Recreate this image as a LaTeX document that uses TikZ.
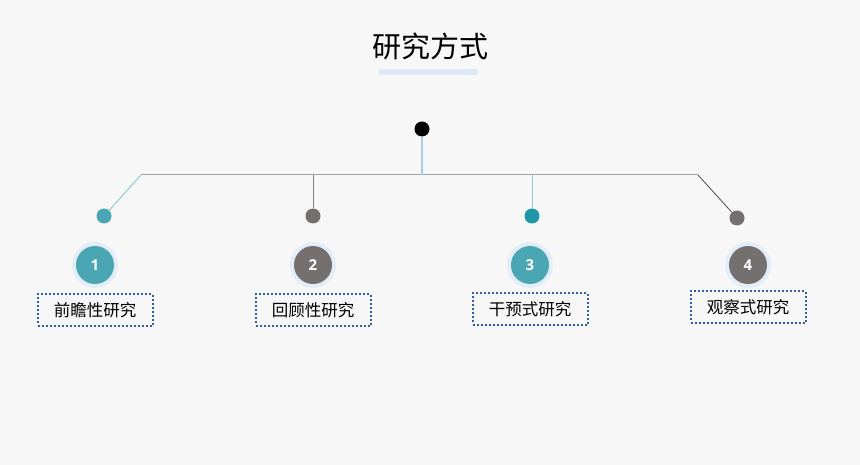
\documentclass[tikz,border=0pt]{standalone}
\usepackage{fontspec}
\setmainfont{Noto Sans CJK SC}
\newfontfamily\numfont{Open Sans}
\usetikzlibrary{calc}
\definecolor{bgcol}{HTML}{F7F7F7}
\definecolor{tealc}{HTML}{4AA6B2}
\definecolor{tealdot}{HTML}{2196A6}
\definecolor{grayc}{HTML}{757070}
\definecolor{glowc}{HTML}{E2EDF8}
\definecolor{barc}{HTML}{DAE8F8}
\definecolor{boxc}{HTML}{2F5F9E}
\definecolor{linec}{HTML}{A3A3A3}
\definecolor{lteal}{HTML}{92CAD2}
\definecolor{lblue}{HTML}{A9CCE8}
\tikzset{
 dot/.style={circle, inner sep=0, minimum size=15},
 num/.style={circle, inner sep=0, minimum size=38, text=white, font=\numfont\bfseries\fontsize{15}{15}\selectfont},
 glow/.style={circle, inner sep=0, minimum size=46, fill=glowc},
 lab/.style={draw=boxc, line width=2, dotted, minimum width=115, minimum height=31, inner sep=0, font=\fontsize{16.5}{16.5}\selectfont}
}
\begin{document}
\begin{tikzpicture}[x=1pt,y=-1pt]
\fill[bgcol] (0,0) rectangle (860,465);
\useasboundingbox (0,0) rectangle (860,465);
\node (title) at (430,46) {\fontsize{29}{29}\selectfont 研究方式};
\fill[barc] (379,69) rectangle (478,75);
\node[dot, minimum size=15, fill=black] (top) at (422,129) {};
\coordinate (mid) at (422,175);
\coordinate (b1) at (141,175);
\coordinate (b2) at (313,175);
\coordinate (b3) at (532,175);
\coordinate (b4) at (698,175);
\draw[linec, line width=1] (b1)--(b4);
\draw[lblue, line width=1.2] (top)--(mid);
\node[dot, fill=tealc] (d1) at (104,216) {};
\node[dot, fill=grayc] (d2) at (313,216) {};
\node[dot, fill=tealdot] (d3) at (532,216) {};
\node[dot, fill=grayc] (d4) at (737,218) {};
\draw[lteal, line width=1] (b1)--(d1);
\draw[linec!80!black, line width=1] (b2)--(d2);
\draw[lteal, line width=1] (b3)--(d3);
\draw[black!70, line width=0.8] (b4)--(d4);
\foreach \i/\x/\c/\t/\ly in {1/95/tealc/前瞻性研究/310, 2/313/grayc/回顾性研究/310, 3/530/tealc/干预式研究/309, 4/748/grayc/观察式研究/307} {
 \node[glow] (g\i) at (\x,265) {};
 \node[num, fill=\c] (n\i) at (\x,265) {\i};
 \node[lab] (l\i) at (\x,\ly) {\t};
}
\end{tikzpicture}
\end{document}
